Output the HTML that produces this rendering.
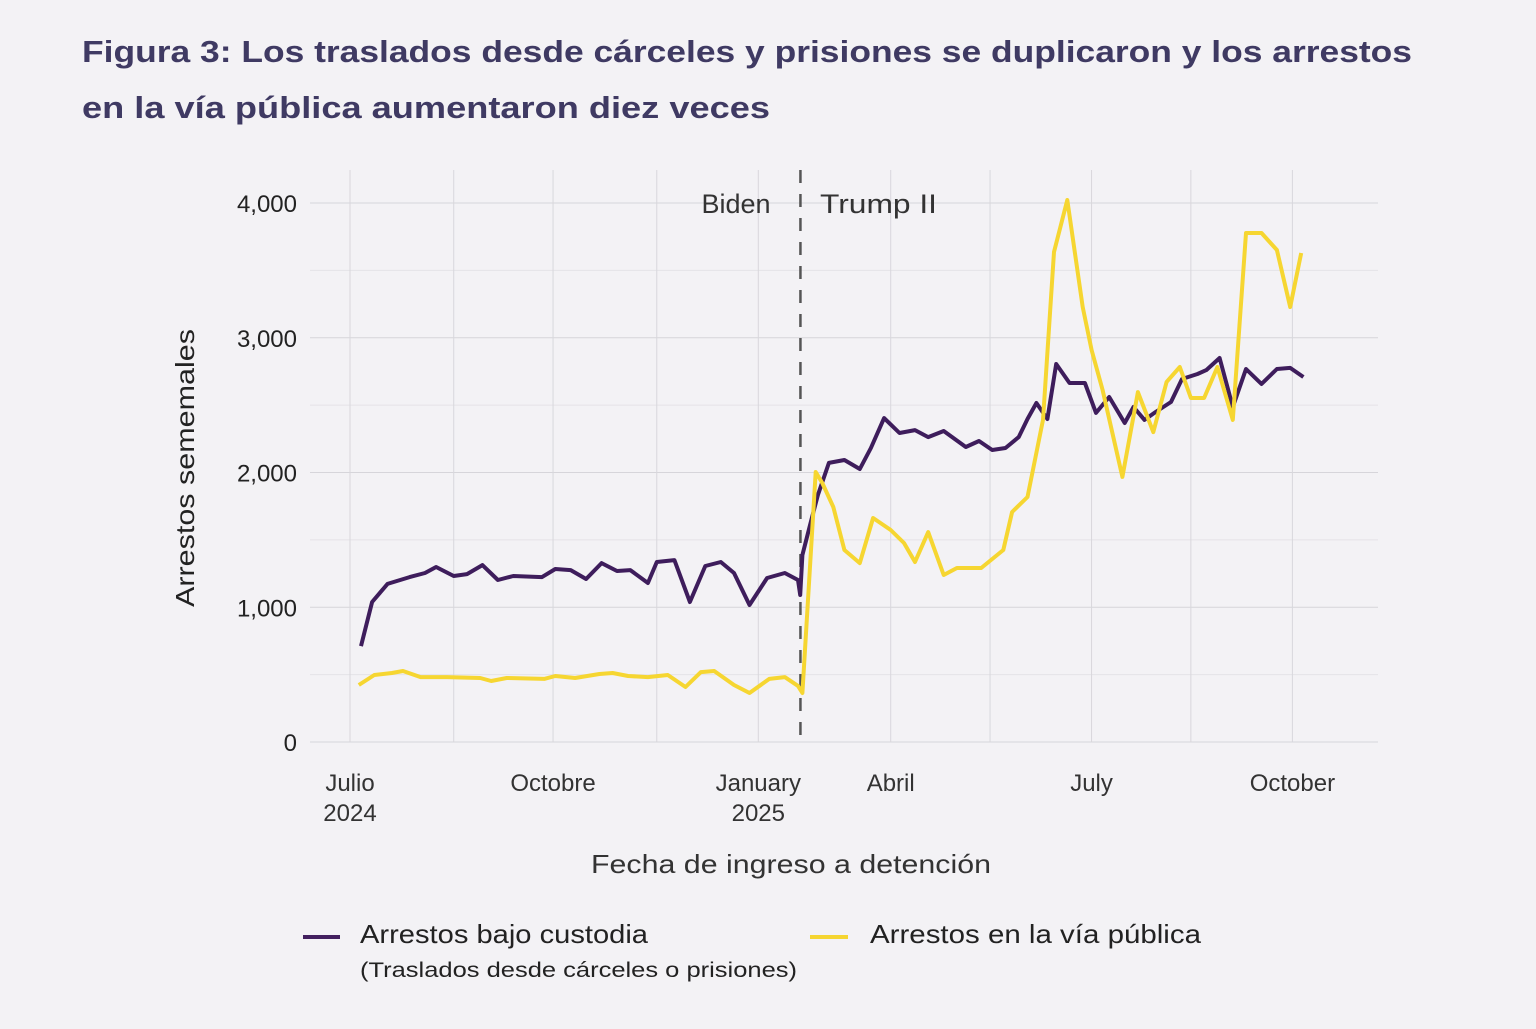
<!DOCTYPE html>
<html><head><meta charset="utf-8"><style>
html,body{margin:0;padding:0;background:#f3f2f5;}
body{width:1536px;height:1024px;overflow:hidden;font-family:"Liberation Sans",sans-serif;}
</style></head><body>
<svg id="chart" width="1536" height="1024" viewBox="0 0 1536 1024" xmlns="http://www.w3.org/2000/svg">
<rect width="1536" height="1024" fill="#f3f2f5"/>
<text x="82" y="62" font-size="31" font-weight="bold" fill="#3f3a63" textLength="1330" lengthAdjust="spacingAndGlyphs">Figura 3: Los traslados desde cárceles y prisiones se duplicaron y los arrestos</text>
<text x="82" y="118" font-size="31" font-weight="bold" fill="#3f3a63" textLength="688" lengthAdjust="spacingAndGlyphs">en la vía pública aumentaron diez veces</text>
<g id="grid"></g>
<g id="axes"></g>
<g id="series"></g>
<text x="0" y="0" transform="translate(194,468) rotate(-90)" text-anchor="middle" font-size="26" fill="#222" textLength="278" lengthAdjust="spacingAndGlyphs">Arrestos sememales</text>
<text x="791" y="873" text-anchor="middle" font-size="26" fill="#333" textLength="400" lengthAdjust="spacingAndGlyphs">Fecha de ingreso a detención</text>
<text x="736" y="213" text-anchor="middle" font-size="27" fill="#333">Biden</text>
<text x="820" y="213" font-size="27" fill="#333" textLength="117" lengthAdjust="spacingAndGlyphs">Trump II</text>
<g>
<line x1="303" y1="937" x2="340" y2="937" stroke="#43205f" stroke-width="4"/>
<text x="360" y="943" font-size="26" fill="#222" textLength="288" lengthAdjust="spacingAndGlyphs">Arrestos bajo custodia</text>
<text x="360" y="977" font-size="21" fill="#222" textLength="437" lengthAdjust="spacingAndGlyphs">(Traslados desde cárceles o prisiones)</text>
<line x1="810" y1="937" x2="848" y2="937" stroke="#f5d531" stroke-width="4"/>
<text x="870" y="943" font-size="26" fill="#222" textLength="331" lengthAdjust="spacingAndGlyphs">Arrestos en la vía pública</text>
</g>
</svg>
<script>
// days since 2024-07-01
const custodyDays=[5,10,17,27,34,39,47,53,60,67,74,87,93,100,107,114,121,127,135,139,147,154,161,168,174,181,189,197,203,204,205,209,212,217,224,231,236,242,249,256,262,269,279,285,291,297,303,307,311,316,320,326,333,338,344,351,355,360,365,372,377,384,388,394,400,406,413,420,426,432];
const custodyValues=[712,1039,1173,1224,1254,1299,1232,1246,1313,1202,1232,1224,1284,1276,1210,1328,1269,1276,1180,1336,1350,1039,1306,1336,1254,1017,1217,1254,1202,1091,1388,1647,1833,2071,2093,2026,2182,2404,2293,2315,2263,2308,2189,2234,2167,2182,2263,2397,2516,2397,2805,2664,2664,2442,2560,2367,2486,2390,2449,2523,2694,2731,2760,2850,2486,2768,2657,2768,2776,2709];
const streetDays=[4,11,19,24,32,44,59,64,71,88,93,102,113,119,126,135,144,152,159,165,174,181,190,197,203,205,211,214,219,224,231,237,245,251,256,262,269,275,286,296,300,307,314,319,325,332,336,341,350,357,364,370,376,381,387,393,400,406,413,420,426,431];
const streetValues=[423,497,512,527,482,482,475,453,475,468,490,475,505,512,490,482,497,408,519,527,423,364,468,482,416,364,2004,1922,1744,1425,1328,1662,1573,1477,1336,1558,1239,1291,1291,1425,1707,1818,2390,3636,4022,3228,2909,2612,1967,2597,2300,2672,2783,2553,2553,2783,2390,3777,3777,3651,3228,3629];
const yTicks=[0,1000,2000,3000,4000];
const yTickLabels=["0","1,000","2,000","3,000","4,000"];
const yGrid=[0,500,1000,1500,2000,2500,3000,3500,4000];
const xGridDays=[0,47,92,139,185,245,290,336,381,427];
const xTickDays=[0,92,185,245,336,427];
const xTickLabels=[["Julio","2024"],["Octobre",""],["January","2025"],["Abril",""],["July",""],["October",""]];
const inaugurationDay=205;

const NS="http://www.w3.org/2000/svg";
const X0=350,PXD=2.207,Y0=742,PXV=(742-203)/4000;
const x=d=>X0+d*PXD, y=v=>Y0-v*PXV;
function mk(tag,attrs,parent){const e=document.createElementNS(NS,tag);for(const k in attrs)e.setAttribute(k,attrs[k]);parent.appendChild(e);return e;}
const grid=document.getElementById('grid'),axes=document.getElementById('axes'),series=document.getElementById('series');
yGrid.forEach(v=>{const l=mk('line',{x1:310,x2:1378,y1:y(v),y2:y(v),stroke:v%1000===0?'#d6d5da':'#e4e3e7','stroke-width':1},grid);

});
xGridDays.forEach(d=>{const l=mk('line',{x1:x(d),x2:x(d),y1:170,y2:742,stroke:'#d8d7dc','stroke-width':1},grid);

});
yTicks.forEach((v,i)=>{const t=mk('text',{x:297,y:y(v)+9,'text-anchor':'end','font-size':24,fill:'#222'},axes);t.textContent=yTickLabels[i];

});
xTickDays.forEach((d,i)=>{const t=mk('text',{x:x(d),y:791,'text-anchor':'middle','font-size':24,fill:'#333'},axes);t.textContent=xTickLabels[i][0];


if(xTickLabels[i][1]){const t2=mk('text',{x:x(d),y:821,'text-anchor':'middle','font-size':24,fill:'#333'},axes);t2.textContent=xTickLabels[i][1];

}});
const dl=mk('line',{x1:x(inaugurationDay)-2,x2:x(inaugurationDay)-2,y1:170,y2:745,stroke:'#555','stroke-width':2.5,'stroke-dasharray':'13,11'},axes);


function line(days,vals,color,name){const p=mk('path',{d:days.map((d,i)=>(i?'L':'M')+x(d).toFixed(1)+','+y(vals[i]).toFixed(1)).join(''),fill:'none',stroke:color,'stroke-width':4,'stroke-linejoin':'round'},series);

}
line(custodyDays,custodyValues,'#3e1d5c','custody-arrests-line');
line(streetDays,streetValues,'#f6d631','street-arrests-line');
</script>
</body></html>
